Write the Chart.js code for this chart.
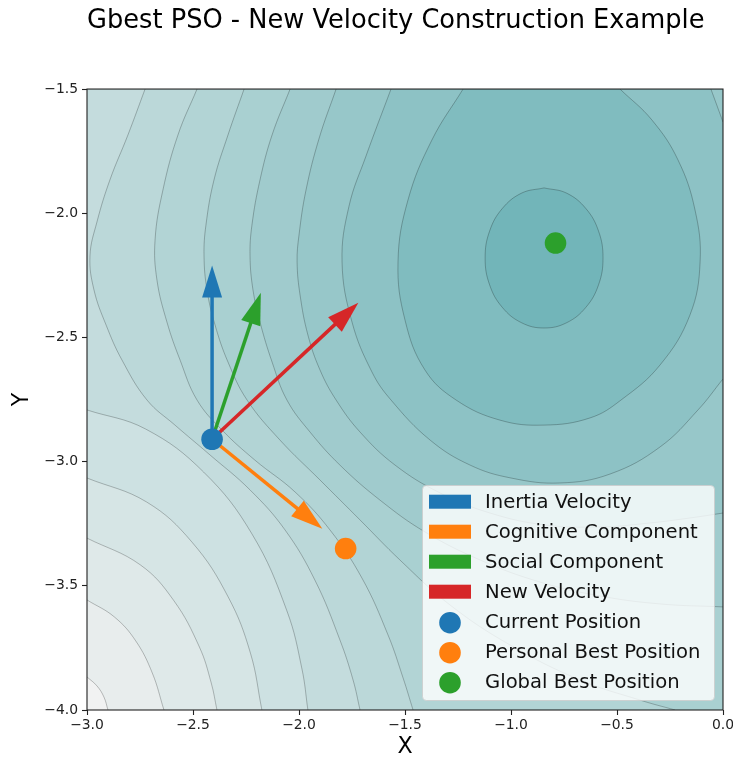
<!DOCTYPE html>
<html>
<head>
<meta charset="utf-8">
<script src="https://cdn.jsdelivr.net/npm/chart.js@4/dist/chart.umd.min.js"></script>
<style>
  body { margin: 0; background: #fff; overflow: hidden; }
  canvas { display: block; }
</style>
</head>
<body>
<canvas id="psoChart" width="733" height="761"></canvas>
<script>
// particle positions (x, y)
const currentPosition = [-2.41, -2.91];
const personalBest = [-1.78, -3.35];
const globalBest = [-0.79, -2.12];

// where each arrow head ends
const inertiaTip = [-2.41, -2.21];
const cognitiveTip = [-1.89, -3.27];
const socialTip = [-2.18, -2.32];
const newVelocityTip = [-1.72, -2.36];

const xTicks = [-3, -2.5, -2, -1.5, -1, -0.5, 0];
const yTicks = [-4, -3.5, -3, -2.5, -2, -1.5];

// contour lines, outermost (bottom-left corner) to innermost (minimum)
const contourA1 = [[-3.0, -3.867], [-2.953, -3.903], [-2.920, -3.948], [-2.901, -4.0]];
const contourA2 = [[-3.0, -3.557], [-2.870, -3.626], [-2.770, -3.722], [-2.692, -3.851], [-2.637, -4.0]];
const contourA3 = [[-3.0, -3.308], [-2.748, -3.416], [-2.591, -3.559], [-2.470, -3.746], [-2.414, -3.891], [-2.387, -4.0]];
const contourA4 = [[-3.0, -3.066], [-2.718, -3.163], [-2.505, -3.324], [-2.334, -3.545], [-2.229, -3.771], [-2.175, -4.0]];
const contourA5 = [[-3.0, -2.792], [-2.723, -2.869], [-2.450, -3.042], [-2.222, -3.291], [-2.057, -3.601], [-1.986, -3.835], [-1.958, -4.0]];
const contour8 = [[-2.726, -1.5], [-2.807, -1.685], [-2.892, -1.866], [-2.953, -2.035], [-2.986, -2.172], [-2.967, -2.309],
  [-2.910, -2.450], [-2.835, -2.591], [-2.717, -2.752], [-2.585, -2.853], [-2.420, -2.973], [-2.231, -3.114],
  [-2.066, -3.275], [-1.925, -3.477], [-1.807, -3.718], [-1.745, -3.879], [-1.712, -4.0]];
const contour7 = [[-2.481, -1.5], [-2.571, -1.685], [-2.642, -1.907], [-2.679, -2.108], [-2.670, -2.269], [-2.623, -2.438],
  [-2.561, -2.591], [-2.481, -2.752], [-2.363, -2.873], [-2.208, -2.994], [-2.019, -3.122], [-1.854, -3.275],
  [-1.703, -3.469], [-1.580, -3.698], [-1.509, -3.871], [-1.462, -4.0]];
const contour6 = [[-2.259, -1.5], [-2.335, -1.685], [-2.401, -1.866], [-2.439, -2.048], [-2.448, -2.172], [-2.434, -2.309],
  [-2.396, -2.450], [-2.335, -2.599], [-2.245, -2.752], [-2.090, -2.913], [-1.901, -3.074], [-1.712, -3.235],
  [-1.524, -3.396], [-1.288, -3.577], [-1.005, -3.738], [-0.675, -3.879], [-0.392, -3.960], [-0.226, -4.0]];
const contour5 = [[-2.042, -1.5], [-2.127, -1.685], [-2.184, -1.866], [-2.222, -2.048], [-2.231, -2.172], [-2.217, -2.309],
  [-2.184, -2.438], [-2.127, -2.599], [-2.057, -2.752], [-1.948, -2.881], [-1.807, -3.014], [-1.618, -3.155],
  [-1.406, -3.283], [-1.146, -3.396], [-0.863, -3.485], [-0.580, -3.541], [-0.297, -3.573], [0, -3.585]];
const contour4 = [[-1.825, -1.5], [-1.906, -1.701], [-1.967, -1.907], [-2.0, -2.088], [-2.009, -2.196], [-1.995, -2.329],
  [-1.958, -2.490], [-1.901, -2.631], [-1.825, -2.752], [-1.712, -2.881], [-1.547, -3.014], [-1.335, -3.126],
  [-1.099, -3.207], [-0.840, -3.255], [-0.580, -3.263], [-0.344, -3.247], [-0.156, -3.227], [0, -3.207]];
const contour3 = [[-1.566, -1.5], [-1.684, -1.770], [-1.764, -1.971], [-1.797, -2.196], [-1.750, -2.438], [-1.656, -2.639],
  [-1.566, -2.752], [-1.382, -2.913], [-1.193, -3.014], [-1.0, -3.066], [-0.769, -3.086], [-0.533, -3.050],
  [-0.297, -2.941], [-0.118, -2.792], [0, -2.667]];
const contour3Corner = [[0, -1.633], [-0.057, -1.5]];
const contour2 = [[-1.226, -1.5], [-1.373, -1.705], [-1.486, -1.947], [-1.533, -2.196], [-1.500, -2.430], [-1.406, -2.631],
  [-1.259, -2.752], [-1.052, -2.833], [-0.844, -2.853], [-0.627, -2.824], [-0.481, -2.752], [-0.297, -2.611],
  [-0.156, -2.410], [-0.108, -2.196], [-0.132, -1.987], [-0.212, -1.786], [-0.335, -1.625], [-0.486, -1.5]];
const contour1 = [[-0.844, -1.898], [-0.738, -1.919], [-0.647, -1.981], [-0.587, -2.072], [-0.566, -2.180], [-0.587, -2.288],
  [-0.647, -2.379], [-0.738, -2.441], [-0.844, -2.462], [-0.950, -2.441], [-1.041, -2.379], [-1.101, -2.288],
  [-1.122, -2.180], [-1.101, -2.072], [-1.041, -1.981], [-0.950, -1.919], [-0.844, -1.898]];

// band colours, lightest (corner) to darkest (inside contour1)
const bandColors = ['#f1f2f2', '#e8eded', '#dfe9e9', '#d6e5e5', '#cde1e2', '#c4dcdd', '#bbd8d9',
  '#b2d4d5', '#a9d0d1', '#a0cbcd', '#97c7c9', '#8dc2c5', '#80bcbf', '#72b5b9'];

const FONT = "'DejaVu Sans', sans-serif";
const toXY = (p) => ({ x: p[0], y: p[1] });
const fmtTick = (v) => (v < 0 ? '\u2212' : '') + Math.abs(v).toFixed(1);

function contourSet(points, band, close, tail) {
  return {
    data: points.map(toXY),
    showLine: true,
    tension: 0.4,
    borderColor: 'rgba(0,0,0,0.24)',
    borderWidth: 1,
    pointRadius: 0,
    pointHoverRadius: 0,
    fill: false,
    order: 3,
    band, close, tail,
  };
}

function arrowSet(label, color, tip) {
  return {
    label, legendShape: 'rect', arrow: true,
    data: [toXY(currentPosition), toXY(tip)],
    backgroundColor: color, borderColor: color,
    showLine: false, pointRadius: 0, pointHoverRadius: 0,
    order: 2,
  };
}

function pointSet(label, color, pos) {
  return {
    label, legendShape: 'circle',
    data: [toXY(pos)],
    backgroundColor: color, borderWidth: 0,
    pointRadius: 10.8, pointHoverRadius: 10.8,
    order: 1,
  };
}

// filled contour bands, drawn underneath the contour lines
const contourFill = {
  id: 'contourFill',
  beforeDatasetsDraw(chart) {
    const { ctx, chartArea: a, scales } = chart;
    const corner = { tl: [a.left, a.top], tr: [a.right, a.top], br: [a.right, a.bottom], bl: [a.left, a.bottom] };
    ctx.save();
    ctx.beginPath();
    ctx.rect(a.left, a.top, a.right - a.left, a.bottom - a.top);
    ctx.clip();
    ctx.fillStyle = bandColors[0];
    ctx.fillRect(a.left, a.top, a.right - a.left, a.bottom - a.top);
    chart.data.datasets.forEach((ds, i) => {
      if (!ds.band) return;
      const meta = chart.getDatasetMeta(i);
      const line = meta.dataset;
      line.updateControlPoints(a, meta.iAxis);
      ctx.beginPath();
      line.path(ctx);
      (ds.tail || []).forEach((p) => ctx.lineTo(scales.x.getPixelForValue(p[0]), scales.y.getPixelForValue(p[1])));
      (ds.close || []).forEach((c) => ctx.lineTo(corner[c][0], corner[c][1]));
      ctx.closePath();
      ctx.fillStyle = bandColors[ds.band];
      ctx.fill();
    });
    ctx.restore();
  },
};

// arrow shafts + heads, placed from the arrow datasets' points
const arrowHeads = {
  id: 'arrowHeads',
  afterDatasetDraw(chart, args) {
    const ds = chart.data.datasets[args.index];
    if (!ds.arrow) return;
    const [p0, p1] = args.meta.data;
    const ctx = chart.ctx;
    const headLen = 32, headHalf = 10;
    const dx = p1.x - p0.x, dy = p1.y - p0.y;
    const len = Math.hypot(dx, dy);
    const ux = dx / len, uy = dy / len;
    const bx = p1.x - ux * headLen, by = p1.y - uy * headLen;
    ctx.save();
    ctx.strokeStyle = ds.borderColor;
    ctx.fillStyle = ds.backgroundColor;
    ctx.lineWidth = 3.5;
    ctx.beginPath();
    ctx.moveTo(p0.x, p0.y);
    ctx.lineTo(bx + ux * 2, by + uy * 2);
    ctx.stroke();
    ctx.beginPath();
    ctx.moveTo(p1.x, p1.y);
    ctx.lineTo(bx - uy * headHalf, by + ux * headHalf);
    ctx.lineTo(bx + uy * headHalf, by - ux * headHalf);
    ctx.closePath();
    ctx.fill();
    ctx.restore();
  },
};

// axes frame and the boxed legend in the lower right
const frameAndLegend = {
  id: 'frameAndLegend',
  afterDraw(chart) {
    const { ctx, chartArea: a } = chart;
    ctx.save();
    ctx.strokeStyle = '#222';
    ctx.lineWidth = 1.1;
    ctx.strokeRect(a.left, a.top, a.right - a.left, a.bottom - a.top);

    const items = chart.data.datasets.filter((d) => d.label);
    const w = 292, h = 215;
    const right = a.right - 9, bottom = a.bottom - 10;
    const left = right - w, top = bottom - h;
    ctx.beginPath();
    ctx.roundRect(left + 0.5, top + 0.5, w, h, 4);
    ctx.fillStyle = 'rgba(255,255,255,0.8)';
    ctx.fill();
    ctx.strokeStyle = 'rgba(204,204,204,0.8)';
    ctx.lineWidth = 1;
    ctx.stroke();

    ctx.font = '19.6px ' + FONT;
    ctx.textAlign = 'left';
    ctx.textBaseline = 'alphabetic';
    items.forEach((d, i) => {
      const cy = top + 16.7 + i * 30;
      ctx.fillStyle = d.backgroundColor;
      if (d.legendShape === 'rect') {
        ctx.fillRect(left + 7, cy - 7, 42, 14);
      } else {
        ctx.beginPath();
        ctx.arc(left + 28, cy + 1, 10.8, 0, Math.PI * 2);
        ctx.fill();
      }
      ctx.fillStyle = '#111';
      ctx.fillText(d.label, left + 63, cy + 6);
    });
    ctx.restore();
  },
};

new Chart(document.getElementById('psoChart'), {
  type: 'scatter',
  data: {
    datasets: [
      arrowSet('Inertia Velocity', '#1f77b4', inertiaTip),
      arrowSet('Cognitive Component', '#ff7f0e', cognitiveTip),
      arrowSet('Social Component', '#2ca02c', socialTip),
      arrowSet('New Velocity', '#d62728', newVelocityTip),
      pointSet('Current Position', '#1f77b4', currentPosition),
      pointSet('Personal Best Position', '#ff7f0e', personalBest),
      pointSet('Global Best Position', '#2ca02c', globalBest),
      contourSet(contourA1, 1, ['br', 'tr', 'tl']),
      contourSet(contourA2, 2, ['br', 'tr', 'tl']),
      contourSet(contourA3, 3, ['br', 'tr', 'tl']),
      contourSet(contourA4, 4, ['br', 'tr', 'tl']),
      contourSet(contourA5, 5, ['br', 'tr', 'tl']),
      contourSet(contour8, 6, ['br', 'tr']),
      contourSet(contour7, 7, ['br', 'tr']),
      contourSet(contour6, 8, ['br', 'tr']),
      contourSet(contour5, 9, ['tr']),
      contourSet(contour4, 10, ['tr']),
      contourSet(contour3, 11, [], contour3Corner),
      contourSet(contour3Corner, 0),
      contourSet(contour2, 12, []),
      contourSet(contour1, 13, []),
    ],
  },
  options: {
    responsive: false,
    animation: false,
    devicePixelRatio: 1,
    layout: { padding: { left: 0, right: 10, top: 0, bottom: 0 }, autoPadding: false },
    plugins: {
      legend: { display: false },
      tooltip: { enabled: false },
      title: {
        display: true,
        text: 'Gbest PSO - New Velocity Construction Example',
        align: 'start',
        fullSize: false,
        color: '#000',
        font: { family: FONT, size: 25.7, weight: 'normal' },
        padding: { top: 5.6, bottom: 52.6 },
      },
    },
    scales: {
      x: {
        type: 'linear', min: -3, max: 0,
        afterFit: (s) => { s.height = 51; s.paddingLeft = 0; s.paddingRight = 0; },
        afterBuildTicks: (s) => { s.ticks = xTicks.map((v) => ({ value: v })); },
        ticks: { callback: fmtTick, color: '#222', padding: 2, maxRotation: 0, autoSkip: false, font: { family: FONT, size: 13.9 } },
        grid: { drawOnChartArea: false, tickLength: 5, tickColor: '#222', tickWidth: 1.1 },
        border: { display: false },
        title: { display: true, text: 'X', color: '#000', font: { family: FONT, size: 22.2 }, padding: { top: 0, bottom: 0 } },
      },
      y: {
        type: 'linear', min: -4, max: -1.5,
        afterFit: (s) => { s.width = 87; s.paddingTop = 0; s.paddingBottom = 0; },
        afterBuildTicks: (s) => { s.ticks = yTicks.map((v) => ({ value: v })); },
        ticks: { callback: fmtTick, color: '#222', padding: 4, autoSkip: false, font: { family: FONT, size: 13.9 } },
        grid: { drawOnChartArea: false, tickLength: 5, tickColor: '#222', tickWidth: 1.1 },
        border: { display: false },
        title: { display: true, text: 'Y', color: '#000', font: { family: FONT, size: 22.2 }, padding: { top: 8.7, bottom: 0 } },
      },
    },
  },
  plugins: [contourFill, arrowHeads, frameAndLegend],
});
</script>
</body>
</html>
